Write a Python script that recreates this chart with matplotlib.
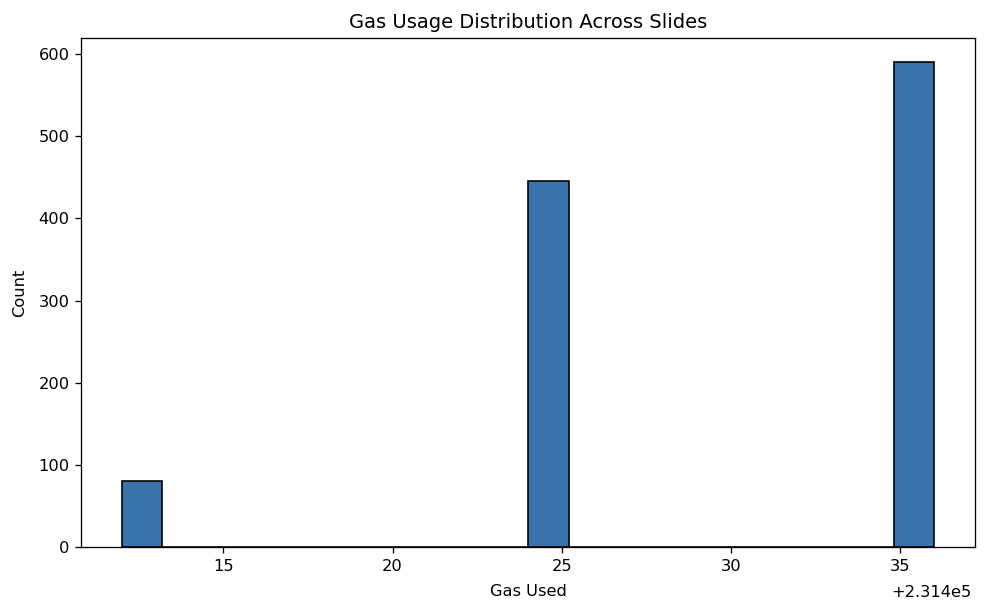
import matplotlib
matplotlib.use("Agg")
import matplotlib.pyplot as plt
import numpy as np

gas_values = [231412, 231424, 231436]
counts = [80, 445, 590]
n_bins = 20

DPI = 117
fig, ax = plt.subplots(figsize=(1004 / DPI, 612 / DPI), dpi=DPI)
fig.subplots_adjust(left=0.0807, right=0.971, top=0.938, bottom=0.106)
ax.hist(gas_values, bins=n_bins, weights=counts, color="#3A74AD",
        edgecolor="black", linewidth=1)
ax.set_title("Gas Usage Distribution Across Slides")
ax.set_xlabel("Gas Used", labelpad=6.5)
ax.set_ylabel("Count", labelpad=7)

fig.canvas.draw()
offset = ax.xaxis.get_major_formatter().get_offset()
ax.xaxis.get_offset_text().set_visible(False)
ax.annotate(offset, xy=(1, 0), xycoords="axes fraction",
            xytext=(-3, -45), textcoords="offset pixels",
            ha="right", va="center")
fig.savefig("out.png", dpi=DPI)
